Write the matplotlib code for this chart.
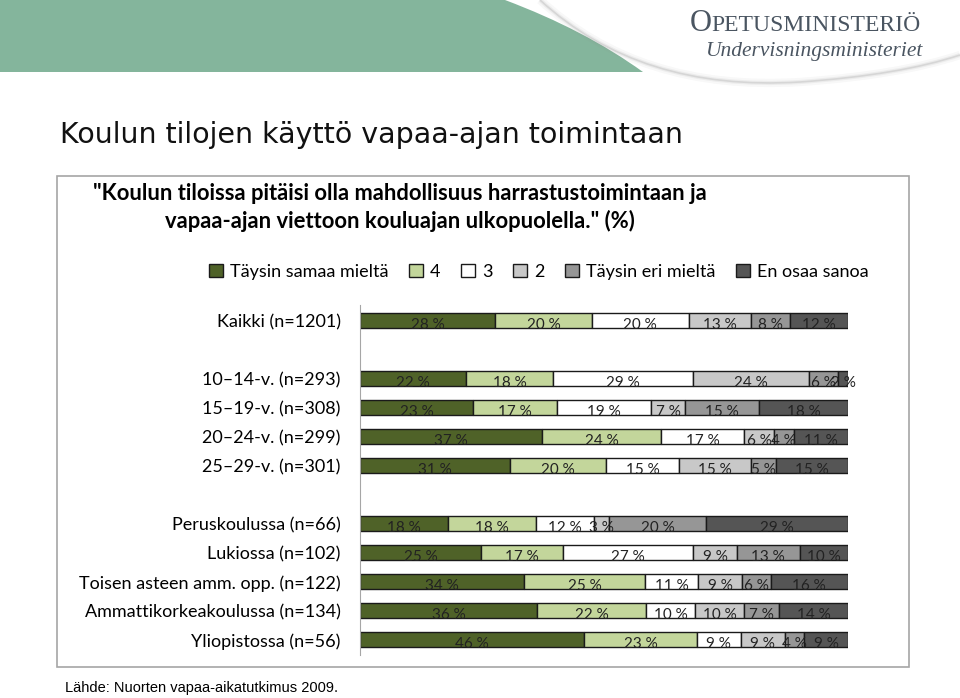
import numpy as np
import matplotlib
matplotlib.use("Agg")
import matplotlib.pyplot as plt
from matplotlib.patches import PathPatch, Rectangle
from matplotlib.path import Path

# data (percent)
groups = ["Kaikki (n=1201)",
          "10\u201314-v. (n=293)", "15\u201319-v. (n=308)",
          "20\u201324-v. (n=299)", "25\u201329-v. (n=301)",
          "Peruskoulussa (n=66)", "Lukiossa (n=102)",
          "Toisen asteen amm. opp. (n=122)", "Ammattikorkeakoulussa (n=134)",
          "Yliopistossa (n=56)"]
ypos = [0, 2, 3, 4, 5, 7, 8, 9, 10, 11]
answers = ["Täysin samaa mieltä", "4", "3", "2", "Täysin eri mieltä", "En osaa sanoa"]
values = np.array([
    [28, 20, 20, 13, 8, 12],
    [22, 18, 29, 24, 6, 2],
    [23, 17, 19, 7, 15, 18],
    [37, 24, 17, 6, 4, 11],
    [31, 20, 15, 15, 5, 15],
    [18, 18, 12, 3, 20, 29],
    [25, 17, 27, 9, 13, 10],
    [34, 25, 11, 9, 6, 16],
    [36, 22, 10, 10, 7, 14],
    [46, 23, 9, 9, 4, 9],
])
colors = ["#4f6228", "#c3d69b", "#ffffff", "#c8c8c8", "#969696", "#555555"]

FONT = "Lato"

fig = plt.figure(figsize=(9.6, 6.98), dpi=100)

# background in pixel coordinates
bg = fig.add_axes([0, 0, 1, 1])
bg.set_xlim(0, 960)
bg.set_ylim(698, 0)
bg.axis("off")

# green header band with curved edge
band = Path([(0, 0), (505, 0), (585, 30), (643, 72), (0, 72), (0, 0)],
            [Path.MOVETO, Path.LINETO, Path.CURVE3, Path.CURVE3, Path.LINETO, Path.CLOSEPOLY])
bg.add_patch(PathPatch(band, facecolor="#84b59c", edgecolor="none"))
# swoosh shadow
sw = Path([(540, 0), (640, 92), (800, 82), (900, 75), (960, 55)],
          [Path.MOVETO, Path.CURVE3, Path.CURVE3, Path.CURVE3, Path.CURVE3])
for lw, a in [(6, 0.06), (3, 0.1), (1.2, 0.22)]:
    bg.add_patch(PathPatch(sw, facecolor="none", edgecolor="#8a8a8a", lw=lw, alpha=a))

# logo text
bg.text(690, 31, "O", family="Liberation Serif", fontsize=22, color="#4a5561", va="baseline")
bg.text(711, 31, "PETUSMINISTERIÖ", family="Liberation Serif", fontsize=17, color="#4a5561", va="baseline")
bg.text(922, 56, "Undervisningsministeriet", family="Liberation Serif", style="italic",
        fontsize=15.5, color="#4a5561", ha="right", va="baseline")

# slide title
bg.text(60, 135, "Koulun tilojen käyttö vapaa-ajan toimintaan", family="DejaVu Sans",
        fontsize=20.5, color="#111111", va="center")

# chart frame
bg.add_patch(Rectangle((57, 176), 852, 491, facecolor="none", edgecolor="#a6a6a6", lw=1.2))

# chart title
bg.text(400, 193, "\"Koulun tiloissa pitäisi olla mahdollisuus harrastustoimintaan ja",
        family=FONT, fontweight="bold", fontsize=15.8, ha="center", va="center")
bg.text(400, 221, "vapaa-ajan viettoon kouluajan ulkopuolella.\" (%)",
        family=FONT, fontweight="bold", fontsize=15.8, ha="center", va="center")

# source
bg.text(65, 688, "Lähde: Nuorten vapaa-aikatutkimus 2009.", family="Liberation Sans",
        fontsize=10.5, va="center")

# main chart
ax = fig.add_axes([360 / 960, 1 - 655 / 698, 488 / 960, 350 / 698])
ax.patch.set_alpha(0)
pct = values / values.sum(axis=1, keepdims=True) * 100
left = np.zeros(len(groups))
for j in range(len(answers)):
    ax.barh(ypos, pct[:, j], left=left, height=0.52, color=colors[j],
            edgecolor="#1a1a1a", lw=1.0, label=answers[j])
    for i in range(len(groups)):
        ax.text(left[i] + pct[i, j] / 2, ypos[i] + 0.14, f"{values[i, j]} %",
                ha="center", va="center", fontsize=11, family=FONT, color="#222222")
    left += pct[:, j]

ax.set_xlim(0, 100)
ax.set_ylim(11.52, -0.55)
ax.set_yticks(ypos)
ax.set_yticklabels(groups, family=FONT, fontsize=13)
ax.tick_params(axis="y", length=0, pad=14)
ax.set_xticks([])
for s in ["top", "right", "bottom"]:
    ax.spines[s].set_visible(False)
ax.spines["left"].set_color("#a6a6a6")

# legend
handles, labels = ax.get_legend_handles_labels()
leg = fig.legend(handles, labels, loc="center", bbox_to_anchor=(539 / 960, 1 - 272 / 698),
                 ncol=6, frameon=False, prop={"family": FONT, "size": 13},
                 handlelength=0.75, handleheight=0.75, handletextpad=0.4, columnspacing=1.15)

fig.savefig("out.png", dpi=100)
